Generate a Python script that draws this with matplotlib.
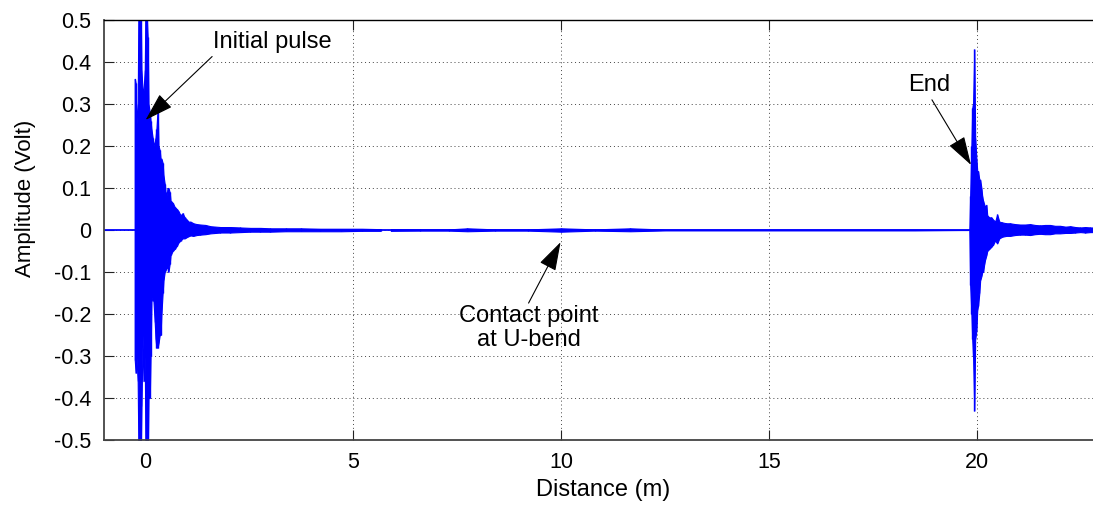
import numpy as np
import matplotlib
matplotlib.use('Agg')
import matplotlib.pyplot as plt

plt.rcParams['font.family'] = ['Liberation Sans', 'DejaVu Sans']

# ---- data (distance in m, amplitude envelope in V) ----
baseline_dist = [-1.0, 23.0]
baseline_amp = [0.0, 0.0]

init_dist = [-0.26, -0.24, -0.22, -0.19, -0.17, -0.14, -0.12, -0.10, -0.07, -0.05,
             -0.02, 0.00, 0.02, 0.05, 0.07, 0.10, 0.12, 0.14, 0.17, 0.19,
             0.22, 0.24, 0.26, 0.29, 0.31, 0.34, 0.36, 0.38, 0.41, 0.43,
             0.46, 0.48, 0.50, 0.53, 0.55, 0.58, 0.60, 0.65, 0.70, 0.75,
             0.79, 0.84, 0.89, 0.94, 0.99, 1.03, 1.08, 1.15, 1.23, 1.32,
             1.44, 1.56, 1.68, 1.80, 2.04, 2.28, 2.52, 2.76, 3.00, 3.37,
             3.73, 4.20, 4.70, 5.20, 5.65]
init_hi = [0.36, 0.35, 0.25, 0.30, 0.55, 0.55, 0.55, 0.38, 0.33, 0.33,
           0.38, 0.55, 0.55, 0.46, 0.30, 0.28, 0.26, 0.24, 0.22, 0.20,
           0.21, 0.22, 0.24, 0.29, 0.20, 0.19, 0.17, 0.17, 0.16, 0.13,
           0.11, 0.09, 0.08, 0.10, 0.10, 0.09, 0.07, 0.065, 0.055, 0.05,
           0.045, 0.035, 0.04, 0.03, 0.025, 0.02, 0.02, 0.016, 0.014, 0.013,
           0.012, 0.009, 0.008, 0.007, 0.007, 0.006, 0.005, 0.005, 0.004, 0.004,
           0.004, 0.003, 0.003, 0.003, 0.002]
init_lo = [-0.31, -0.34, -0.30, -0.36, -0.55, -0.55, -0.55, -0.42, -0.25, -0.36,
           -0.30, -0.55, -0.55, -0.55, -0.40, -0.40, -0.30, -0.17, -0.16, -0.17,
           -0.22, -0.26, -0.28, -0.28, -0.27, -0.25, -0.25, -0.20, -0.15, -0.12,
           -0.10, -0.095, -0.09, -0.09, -0.10, -0.08, -0.06, -0.05, -0.045, -0.038,
           -0.03, -0.025, -0.02, -0.02, -0.017, -0.015, -0.013, -0.014, -0.012, -0.011,
           -0.010, -0.008, -0.007, -0.006, -0.006, -0.005, -0.004, -0.004, -0.004, -0.003,
           -0.003, -0.003, -0.003, -0.002, -0.002]

mid_dist = [5.9, 6.6, 7.3, 7.74, 8.4, 9.2, 10.0, 10.8, 11.66, 12.5, 14.0, 15.5, 17.0, 18.5, 19.78]
mid_hi = [0.002, 0.0015, 0.0015, 0.004, 0.0015, 0.0015, 0.004, 0.0015, 0.004, 0.001,
          0.001, 0.001, 0.001, 0.001, 0.0]
mid_lo = [-0.002, -0.0015, -0.0015, -0.003, -0.0015, -0.0015, -0.004, -0.0015, -0.003, -0.001,
          -0.001, -0.001, -0.001, -0.001, 0.0]

end_dist = [19.81, 19.83, 19.86, 19.88, 19.90, 19.93, 19.95, 19.98, 20.00, 20.02,
            20.05, 20.07, 20.10, 20.12, 20.14, 20.17, 20.19, 20.22, 20.24, 20.29,
            20.34, 20.38, 20.43, 20.48, 20.53, 20.60, 20.70, 20.79, 20.91, 21.03,
            21.15, 21.27, 21.39, 21.51, 21.63, 21.75, 21.87, 21.99, 22.12, 22.24,
            22.36, 22.48, 22.60, 22.72, 22.85]
end_hi = [0.0, 0.08, 0.20, 0.29, 0.30, 0.43, 0.22, 0.17, 0.14, 0.14,
          0.12, 0.12, 0.10, 0.08, 0.07, 0.06, 0.055, 0.06, 0.035, 0.03,
          0.03, 0.025, 0.02, 0.037, 0.02, 0.018, 0.016, 0.016, 0.014, 0.013,
          0.013, 0.014, 0.012, 0.011, 0.012, 0.012, 0.010, 0.010, 0.008, 0.009,
          0.007, 0.006, 0.007, 0.006, 0.006]
end_lo = [0.0, -0.13, -0.20, -0.26, -0.30, -0.43, -0.26, -0.24, -0.19, -0.18,
          -0.15, -0.12, -0.11, -0.10, -0.10, -0.08, -0.07, -0.06, -0.05, -0.045,
          -0.04, -0.035, -0.025, -0.032, -0.02, -0.016, -0.014, -0.014, -0.012, -0.011,
          -0.011, -0.012, -0.010, -0.009, -0.010, -0.010, -0.008, -0.008, -0.007, -0.007,
          -0.006, -0.005, -0.006, -0.005, -0.005]

x_ticks = [0, 5, 10, 15, 20]
y_ticks = [-0.5, -0.4, -0.3, -0.2, -0.1, 0.0, 0.1, 0.2, 0.3, 0.4, 0.5]
y_tick_labels = ['-0.5', '-0.4', '-0.3', '-0.2', '-0.1', '0', '0.1', '0.2', '0.3', '0.4', '0.5']

# ---- figure ----
W, H = 1093, 507
fig = plt.figure(figsize=(W / 100, H / 100), dpi=100)
ax = fig.add_axes([104 / W, 67 / H, 998 / W, 420 / H])
blue = '#0000ff'

ax.plot(baseline_dist, baseline_amp, color=blue, lw=1.3, zorder=2)
for d, hi, lo in [(init_dist, init_hi, init_lo),
                  (mid_dist, mid_hi, mid_lo),
                  (end_dist, end_hi, end_lo)]:
    ax.fill_between(d, lo, hi, color=blue, lw=0.8, zorder=2)
    ax.vlines(d, lo, hi, color=blue, lw=1.0, zorder=2)

ax.set_xlim(-1, 23)
ax.set_ylim(-0.5, 0.5)
ax.set_xticks(x_ticks)
ax.set_yticks(y_ticks)
ax.set_yticklabels(y_tick_labels)
ax.set_axisbelow(True)
ax.grid(True, linestyle=(0, (1, 3)), color='#444444', lw=0.7)

ax.tick_params(direction='in', length=7, width=0.8, top=True, right=False,
               labelsize=15.5, pad=9, colors='#222222', labelcolor='black')
for s in ['left', 'bottom']:
    ax.spines[s].set_color('#444444')
    ax.spines[s].set_linewidth(1.3)
ax.spines['top'].set_color('black')
ax.spines['top'].set_linewidth(1.0)
ax.spines['right'].set_visible(False)

ax.set_xlabel('Distance (m)', fontsize=17)
ax.set_ylabel('Amplitude (Volt)', fontsize=16)
ax.xaxis.set_label_coords(0.5, -0.092)
ax.yaxis.set_label_coords(-0.068, 0.575)

arrow = dict(arrowstyle='-|>,head_length=0.9,head_width=0.28', color='black',
             lw=0.8, shrinkA=0, shrinkB=0, mutation_scale=20)

ax.text(1.63, 0.448, 'Initial pulse', ha='left', va='center', fontsize=17)
ax.annotate('', xy=(0.0, 0.262), xytext=(1.60, 0.413), arrowprops=arrow)

ax.text(18.34, 0.345, 'End', ha='left', va='center', fontsize=17)
ax.annotate('', xy=(19.85, 0.155), xytext=(18.91, 0.31), arrowprops=arrow)

ax.text(9.21, -0.178, 'Contact point\nat U-bend', ha='center', va='top',
        fontsize=17, linespacing=1.15)
ax.annotate('', xy=(9.98, -0.029), xytext=(9.21, -0.174), arrowprops=arrow)

fig.savefig('out.png', dpi=100)
